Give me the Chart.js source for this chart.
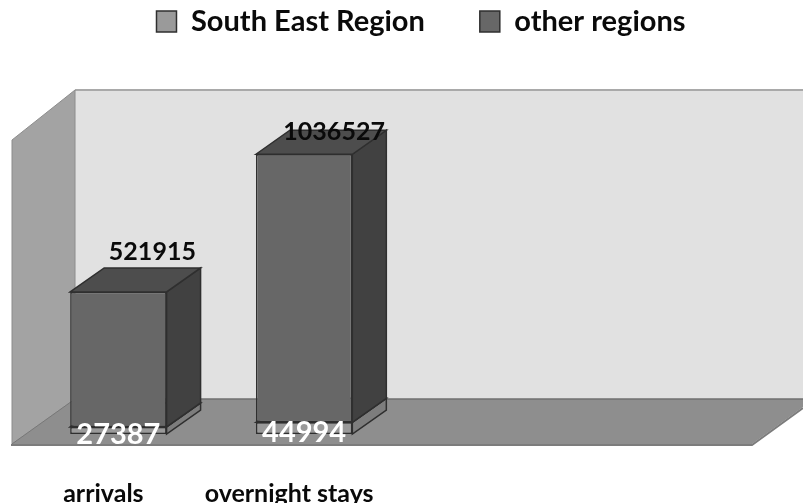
<!DOCTYPE html>
<html>
<head>
<meta charset="utf-8">
<style>
  html, body { margin: 0; padding: 0; background: #fff; }
  canvas { display: block; }
</style>
<script src="https://cdn.jsdelivr.net/npm/chart.js@4"></script>
</head>
<body>
<canvas id="chart" width="803" height="503"></canvas>
<script>
// Tourism totals per measure, split by region
const categories = ["arrivals", "overnight stays", "", ""];
const southEast = [27387, 44994, null, null];
const otherRegions = [521915, 1036527, null, null];
const seriesNames = ["South East Region", "other regions"];

const FONT = "Lato, 'Open Sans', sans-serif";
const DEPTH = { x: 34, y: -24 };
const EDGE = "#2f2f2f";
const LEGEND_SHIFT = 24;
const faces = [
  { front: "#9a9a9a", side: "#7d7d7d", top: "#8c8c8c" },
  { front: "#676767", side: "#414141", top: "#4d4d4d" }
];

function poly(ctx, pts, fill, stroke, lw) {
  ctx.beginPath();
  pts.forEach((p, i) => i ? ctx.lineTo(p[0], p[1]) : ctx.moveTo(p[0], p[1]));
  ctx.closePath();
  if (fill) { ctx.fillStyle = fill; ctx.fill(); }
  if (stroke) { ctx.strokeStyle = stroke; ctx.lineWidth = lw || 1; ctx.stroke(); }
}

// Room behind the bars: back wall, left wall and floor
const roomPlugin = {
  id: "room",
  afterLayout(chart) {
    chart.legend.left += LEGEND_SHIFT;
    chart.legend.right += LEGEND_SHIFT;
  },
  beforeDatasetsDraw(chart) {
    const c = chart.ctx;
    c.save();
    poly(c, [[75, 90], [803, 90], [803, 399], [75, 399]], "#e1e1e1");
    c.strokeStyle = "#a9a9a9"; c.lineWidth = 2;
    c.beginPath(); c.moveTo(75, 90); c.lineTo(803, 90); c.stroke();
    poly(c, [[12, 140], [75, 90], [75, 399], [12, 444]], "#a3a3a3", "#8c8c8c", 1);
    poly(c, [[12, 444], [752, 444], [803, 407], [803, 399], [75, 399]], "#8e8e8e");
    c.strokeStyle = "#6f6f6f"; c.lineWidth = 1.5;
    c.beginPath(); c.moveTo(75, 399); c.lineTo(803, 399); c.stroke();
    c.strokeStyle = "#777"; c.lineWidth = 1;
    c.beginPath(); c.moveTo(12, 444); c.lineTo(75, 399); c.stroke();
    c.strokeStyle = "#7c7c7c"; c.lineWidth = 2;
    c.beginPath(); c.moveTo(11, 445); c.lineTo(752, 445); c.lineTo(803, 408); c.stroke();

    // Top and right faces of each stacked segment
    chart.data.datasets.forEach((ds, d) => {
      chart.getDatasetMeta(d).data.forEach((bar, i) => {
        if (ds.data[i] == null) return;
        const r = bar.x + bar.width / 2, l = bar.x - bar.width / 2;
        const t = bar.y, b = bar.base;
        poly(c, [[r, t], [r + DEPTH.x, t + DEPTH.y], [r + DEPTH.x, b + DEPTH.y], [r, b]],
             faces[d].side, EDGE, 1.5);
        poly(c, [[l, t], [l + DEPTH.x, t + DEPTH.y], [r + DEPTH.x, t + DEPTH.y], [r, t]],
             faces[d].top, EDGE, 1.5);
      });
    });
    c.restore();
  }
};

// Value captions, placed relative to the bar each one belongs to
const captionPlugin = {
  id: "captions",
  afterDatasetsDraw(chart) {
    const c = chart.ctx;
    c.save();
    c.textAlign = "center";
    c.textBaseline = "middle";
    const shiftAbove = [[34, -40], [30, -22]];
    chart.data.datasets.forEach((ds, d) => {
      chart.getDatasetMeta(d).data.forEach((bar, i) => {
        const v = ds.data[i];
        if (v == null) return;
        if (d === 0) {
          c.font = "bold 29px " + FONT;
          c.fillStyle = "#ffffff";
          c.fillText(String(v), bar.x, bar.base + (i === 0 ? 1 : -1));
        } else {
          c.font = "bold 25px " + FONT;
          c.fillStyle = "#0a0a0a";
          c.fillText(String(v), bar.x + shiftAbove[i][0], bar.y + shiftAbove[i][1]);
        }
      });
    });
    c.restore();
  }
};

new Chart(document.getElementById("chart"), {
  type: "bar",
  data: {
    labels: categories,
    datasets: [
      { label: seriesNames[0], data: southEast, backgroundColor: faces[0].front, borderColor: EDGE, borderWidth: 1.5, borderSkipped: false },
      { label: seriesNames[1], data: otherRegions, backgroundColor: faces[1].front, borderColor: EDGE, borderWidth: 1.5, borderSkipped: false }
    ]
  },
  options: {
    responsive: false,
    animation: false,
    layout: { padding: { top: -48, left: 25.5, right: 34.5, bottom: -43 } },
    categoryPercentage: 0.519,
    barPercentage: 1,
    plugins: {
      tooltip: { enabled: false },
      legend: {
        position: "top",
        labels: {
          color: "#0a0a0a",
          font: { family: FONT, size: 29, weight: "bold" },
          boxWidth: 20,
          boxHeight: 21,
          padding: 55
        }
      }
    },
    scales: {
      x: {
        stacked: true,
        grid: { display: false, drawBorder: false },
        border: { display: false },
        ticks: {
          color: "#0a0a0a",
          font: { family: FONT, size: 25, weight: "bold" },
          labelOffset: -15,
          padding: 37,
          maxRotation: 0,
          autoSkip: false
        }
      },
      y: {
        stacked: true,
        display: false,
        min: 0,
        max: 1500000
      }
    }
  },
  plugins: [roomPlugin, captionPlugin]
});
</script>
</body>
</html>
